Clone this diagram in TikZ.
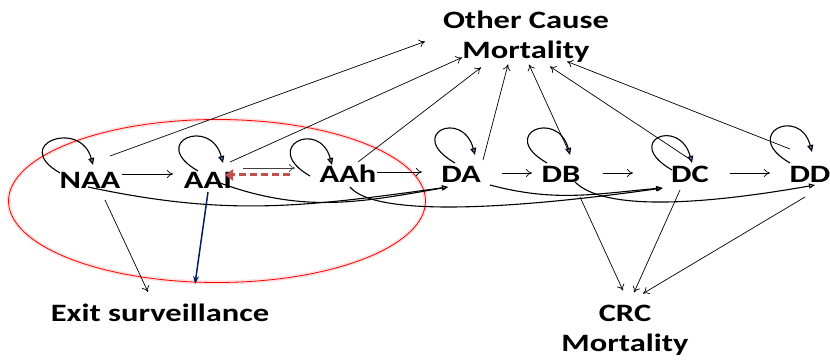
\documentclass[tikz,border=0pt]{standalone}
\usepackage{fontspec}
\newfontfamily\diagfont{Carlito}[FakeStretch=1.3]
\usetikzlibrary{arrows.meta,shapes.geometric}
\definecolor{loopblue}{RGB}{79,129,189}
\definecolor{dashred}{RGB}{192,80,77}
\definecolor{exitnavy}{RGB}{0,32,96}
\tikzstyle{state} = [font=\diagfont\bfseries\fontsize{25}{30}\selectfont, inner sep=0pt, text height=16pt, text depth=0pt, anchor=base]
\tikzstyle{sink} = [font=\diagfont\bfseries\fontsize{25}{30}\selectfont, inner sep=0pt, align=center]
\tikzstyle{move} = [-{To[length=6pt,width=8pt]}, line width=0.7pt]
\tikzstyle{stay} = [-{Triangle[fill=loopblue,length=7pt,width=6pt]}, line width=1.1pt, out=150, in=105, out distance=58, in distance=48]
\tikzstyle{skip} = [-{Triangle[open,length=6pt,width=5pt]}, line width=1.1pt]

\begin{document}
\begin{tikzpicture}[x=1pt, y=1pt]
	\useasboundingbox (0,0) rectangle (830,361);
	\node[ellipse, draw=red, line width=0.8pt, preaction={draw=red!12, line width=4pt}, minimum width=417pt, minimum height=163pt, inner sep=0pt] (aagroup) at (217,160) {};

	\node[state] (naa) at (90,172) {NAA};
	\node[state] (aai) at (208,172) {AAI};
	\node[state] (aah) at (348,178) {AAh};
	\node[state] (da) at (461,178) {DA};
	\node[state] (db) at (561,178) {DB};
	\node[state] (dc) at (690,178) {DC};
	\node[state] (dd) at (810,178) {DD};
	\node[sink] (ocm) at (526,324.5) {Other Cause\\Mortality};
	\node[sink, anchor=base] (exs) at (160,39) {Exit surveillance};
	\node[sink] (crc) at (625,30.5) {CRC\\Mortality};

	\draw[stay] ([shift={(-30,16)}]naa.base) to ([shift={(3,24)}]naa.base);
	\draw[stay] ([shift={(-10,18)}]aai.base) to ([shift={(15,26)}]aai.base);
	\draw[stay] ([shift={(-38,7)}]aah.base) to ([shift={(-16,18)}]aah.base);
	\draw[stay] ([shift={(-6,20)}]da.base) to ([shift={(14,28)}]da.base);
	\draw[stay] ([shift={(-14,20)}]db.base) to ([shift={(9,28)}]db.base);
	\draw[stay] ([shift={(-18,13)}]dc.base) to ([shift={(2,20)}]dc.base);
	\draw[stay] ([shift={(-20,20)}]dd.base) to ([shift={(2,31)}]dd.base);

	\draw[move] ([shift={(32,15)}]naa.base) -- ([shift={(-35,15)}]aai.base);
	\draw[move, darkgray] ([shift={(35,21)}]aai.base) -- ([shift={(-53,15)}]aah.base);
	\draw[dashred, line width=3pt, dash pattern=on 7pt off 4pt, -{Triangle[length=8pt,width=11pt]}] ([shift={(-58,8)}]aah.base) -- ([shift={(17,14)}]aai.base);
	\draw[move] ([shift={(29,11)}]aah.base) -- ([shift={(-39,11)}]da.base);
	\draw[move] ([shift={(41,10)}]da.base) -- ([shift={(-29,10)}]db.base);
	\draw[move] ([shift={(42,10)}]db.base) -- ([shift={(-57,10)}]dc.base);
	\draw[move] ([shift={(40,10)}]dc.base) -- ([shift={(-40,10)}]dd.base);

	\draw[move] ([shift={(20,33)}]naa.base) -- ([shift={(-101,-5)}]ocm.center);
	\draw[move] ([shift={(22,27)}]aai.base) -- ([shift={(-64,-21)}]ocm.center);
	\draw[move] ([shift={(10,21)}]aah.base) -- ([shift={(-45,-31)}]ocm.center);
	\draw[move] ([shift={(22,23)}]da.base) -- ([shift={(-18,-28)}]ocm.center);
	\draw[move] ([shift={(7,33)}]db.base) -- ([shift={(3,-28)}]ocm.center);
	\draw[move] ([shift={(-2,25)}]dc.base) -- ([shift={(24,-30)}]ocm.center);
	\draw[move] ([shift={(-20,34)}]dd.base) -- ([shift={(41,-25)}]ocm.center);

	\draw[move] ([shift={(15,-11)}]naa.base) -- ([shift={(-12,30)}]exs.base);
	\draw[exitnavy, line width=1.5pt, -{Stealth[length=8pt,width=6pt]}] ([shift={(0,-3)}]aai.base) -- ([shift={(35,38)}]exs.base);

	\draw[move] ([shift={(19,-14)}]db.base) -- ([shift={(-2,40)}]crc.center);
	\draw[move] ([shift={(-10,-7)}]dc.base) -- ([shift={(9,38)}]crc.center);
	\draw[move] ([shift={(-5,-14)}]dd.base) -- ([shift={(18,37)}]crc.center);

	\draw[skip] ([shift={(-2,2)}]naa.base) to[out=-12, in=188, out distance=140, in distance=150] ([shift={(-13,-4)}]da.base);
	\draw[skip] ([shift={(12,6)}]aai.base) to[out=-20, in=190] ([shift={(-13,-4)}]da.base);
	\draw[skip] ([shift={(2,-4)}]aah.base) to[out=-50, in=188, out distance=40, in distance=150] ([shift={(-27,-5)}]dc.base);
	\draw[skip] ([shift={(29,-2)}]da.base) to[out=-15, in=185] ([shift={(-28,-5)}]dc.base);
	\draw[skip] ([shift={(14,1)}]db.base) to[out=-45, in=190, out distance=40, in distance=120] ([shift={(5,-2)}]dd.base);
\end{tikzpicture}
\end{document}
